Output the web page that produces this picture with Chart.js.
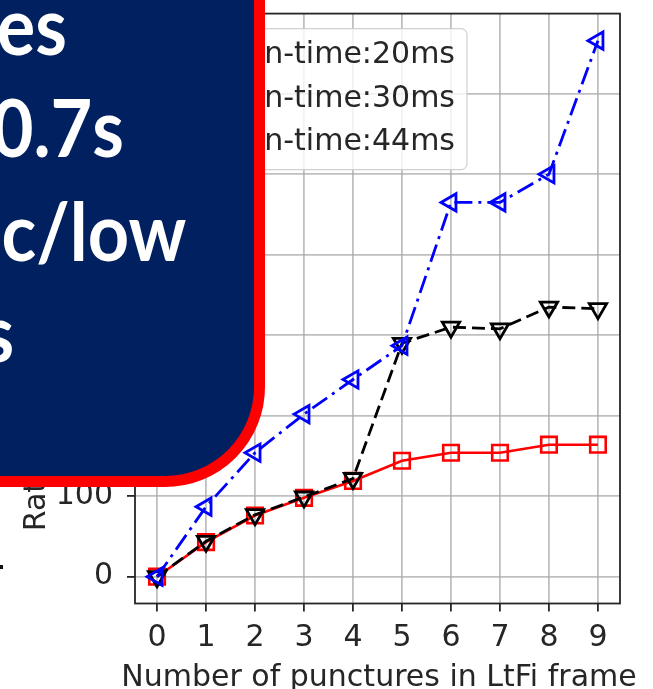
<!DOCTYPE html>
<html>
<head>
<meta charset="utf-8">
<script src="https://cdn.jsdelivr.net/npm/chart.js@4.4.1/dist/chart.umd.min.js"></script>
<style>
  html, body { margin: 0; padding: 0; background: #ffffff; }
  #stage { position: relative; width: 653px; height: 689px; overflow: hidden; }
  #chart { position: absolute; left: 0; top: 0; }
  #panel {
    position: absolute; left: -60px; top: -60px; width: 325px; height: 547px;
    box-sizing: border-box; background: #002060; border: 11px solid #ff0000;
    border-bottom-right-radius: 100px; z-index: 2;
  }
  .slideText {
    position: absolute; z-index: 3; color: #ffffff; white-space: nowrap;
    font-family: Lato, "Open Sans", sans-serif; font-weight: 700; font-size: 80px;
    line-height: 1; transform: scaleX(0.9); transform-origin: right center;
  }
  #dot { position: absolute; left: 0; top: 565px; width: 3px; height: 4px; background: #111; z-index: 3; }
</style>
</head>
<body>
<div id="stage">
  <canvas id="chart" width="653" height="689"></canvas>
  <div id="panel"></div>
  <div class="slideText" style="right:586px; top:-16px;">es</div>
  <div class="slideText" style="right:529px; top:86px;">0.7s</div>
  <div class="slideText" style="right:467px; top:190px;">c/low</div>
  <div class="slideText" style="right:639px; top:291px;">s</div>
  <div id="dot"></div>
</div>
<script>
// Number of punctures per LtFi frame
const punctures = [0, 1, 2, 3, 4, 5, 6, 7, 8, 9];

// Rate per on-time setting
const onTime20 = [0, 43, 76, 98, 119, 144, 154, 154, 164, 164];
const onTime30 = [0, 44, 77, 99, 122, 290, 310, 308, 335, 333];
const onTime44 = [0, 87, 154, 202, 245, 287, 465, 465, 500, 666];

const seriesLabels = ['On-time:20ms', 'On-time:30ms', 'On-time:44ms'];
const xTickValues = [0, 1, 2, 3, 4, 5, 6, 7, 8, 9];
const yTickValues = [0, 100, 200, 300, 400, 500, 600];

const xTitle = 'Number of punctures in LtFi frame';
const yTitle = 'Rate of LtFi channel [bits/sec]';

const FONT = 'DejaVu Sans';
const FS = 30;
const TEXT = '#262626';
const GRID = 'rgba(170,170,170,0.75)';

const toPoints = vals => punctures.map((p, i) => ({ x: p, y: vals[i] }));

const datasets = [
  {
    label: seriesLabels[0], data: toPoints(onTime20), order: 3,
    borderColor: '#ff0000', borderWidth: 2.6,
    pointStyle: 'rect', pointRadius: 11, pointBorderWidth: 2.6,
    pointBorderColor: '#ff0000', pointBackgroundColor: 'rgba(0,0,0,0)'
  },
  {
    label: seriesLabels[1], data: toPoints(onTime30), order: 2,
    borderColor: '#000000', borderWidth: 2.8, borderDash: [13, 6],
    pointStyle: 'triangle', rotation: 180, pointRadius: 10, pointBorderWidth: 2.8,
    pointBorderColor: '#000000', pointBackgroundColor: 'rgba(0,0,0,0)'
  },
  {
    label: seriesLabels[2], data: toPoints(onTime44), order: 1,
    borderColor: '#0000ff', borderWidth: 2.8, borderDash: [18, 6, 3, 6],
    pointStyle: 'triangle', rotation: 270, pointRadius: 10, pointBorderWidth: 2.8,
    pointBorderColor: '#0000ff', pointBackgroundColor: 'rgba(0,0,0,0)'
  }
];

// Axes frame on all four sides
const frame = {
  id: 'frame',
  afterDatasetsDraw(chart) {
    const { ctx, chartArea: a } = chart;
    ctx.save();
    ctx.strokeStyle = TEXT;
    ctx.lineWidth = 1.8;
    ctx.strokeRect(a.left, a.top, a.right - a.left, a.bottom - a.top);
    ctx.restore();
  }
};

// Axis titles, drawn at natural width
const axisTitles = {
  id: 'axisTitles',
  afterDraw(chart) {
    const { ctx, chartArea: a } = chart;
    ctx.save();
    ctx.font = FS + 'px "' + FONT + '"';
    ctx.fillStyle = TEXT;
    ctx.textAlign = 'center';
    ctx.textBaseline = 'alphabetic';
    ctx.fillText(xTitle, (a.left + a.right) / 2 + 1.5, chart.height - 3);
    ctx.translate(45, (a.top + a.bottom) / 2);
    ctx.rotate(-Math.PI / 2);
    ctx.fillText(yTitle, 0, 0);
    ctx.restore();
  }
};

// Legend box in the upper-left corner of the plot
const legendBox = {
  id: 'legendBox',
  afterDatasetsDraw(chart) {
    const { ctx, chartArea: a } = chart;
    const pad = 12, handleLen = 60, gap = 24, rowH = 43.5;
    const textRight = a.left + 320;
    const top = a.top + 15;
    ctx.save();
    ctx.font = FS + 'px "' + FONT + '"';
    const textW = Math.max(...chart.data.datasets.map(d => ctx.measureText(d.label).width));
    const textLeft = textRight - textW;
    const left = textLeft - gap - handleLen - pad;
    const w = textRight + pad - left;
    const h = 141;
    ctx.beginPath();
    ctx.roundRect(left, top, w, h, 6);
    ctx.fillStyle = 'rgba(255,255,255,0.8)';
    ctx.fill();
    ctx.strokeStyle = 'rgba(204,204,204,0.9)';
    ctx.lineWidth = 1.2;
    ctx.stroke();
    chart.data.datasets.forEach((d, i) => {
      const cy = top + 27 + i * rowH;
      const hx = left + pad;
      ctx.save();
      ctx.strokeStyle = d.borderColor;
      ctx.lineWidth = d.borderWidth;
      ctx.setLineDash(d.borderDash || []);
      ctx.beginPath();
      ctx.moveTo(hx, cy);
      ctx.lineTo(hx + handleLen, cy);
      ctx.stroke();
      ctx.setLineDash([]);
      ctx.restore();
      Chart.helpers.drawPoint(ctx, {
        pointStyle: d.pointStyle, rotation: d.rotation || 0, radius: d.pointRadius,
        borderWidth: d.pointBorderWidth
      }, hx + handleLen / 2, cy);
      ctx.strokeStyle = d.pointBorderColor;
      ctx.lineWidth = d.pointBorderWidth;
      ctx.stroke();
      ctx.fillStyle = TEXT;
      ctx.textBaseline = 'middle';
      ctx.textAlign = 'left';
      ctx.fillText(d.label, textLeft, cy);
    });
    ctx.restore();
  }
};

new Chart(document.getElementById('chart'), {
  type: 'line',
  data: { datasets },
  options: {
    responsive: false,
    animation: false,
    devicePixelRatio: 1,
    layout: { padding: { top: 10, right: 33, left: 0, bottom: 0 } },
    plugins: { legend: { display: false }, tooltip: { enabled: false } },
    scales: {
      x: {
        type: 'linear', min: -0.45, max: 9.45,
        afterBuildTicks: s => { s.ticks = xTickValues.map(v => ({ value: v })); },
        afterFit: s => { s.height = 85.5; s.paddingLeft = 0; s.paddingRight = 0; },
        ticks: { font: { family: FONT, size: FS }, color: TEXT, padding: 9, maxRotation: 0, autoSkip: false },
        grid: { color: GRID, lineWidth: 1.8, tickColor: TEXT, tickWidth: 1.8, tickLength: 8 },
        border: { display: false },
        title: { display: false }
      },
      y: {
        type: 'linear', min: -33.3, max: 699.6,
        afterBuildTicks: s => { s.ticks = yTickValues.map(v => ({ value: v })); },
        afterFit: s => { s.width = 135; s.paddingTop = 0; s.paddingBottom = 0; },
        ticks: { font: { family: FONT, size: FS }, color: TEXT, padding: 14, autoSkip: false },
        grid: { color: GRID, lineWidth: 1.8, tickColor: TEXT, tickWidth: 1.8, tickLength: 8 },
        border: { display: false },
        title: { display: false }
      }
    }
  },
  plugins: [frame, legendBox, axisTitles]
});
</script>
</body>
</html>
